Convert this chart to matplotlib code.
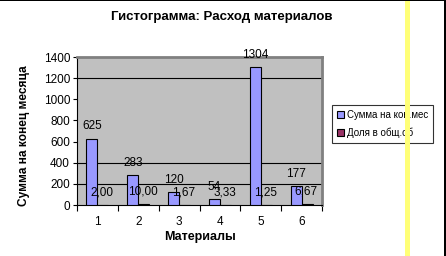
import numpy as np
import matplotlib
matplotlib.use("Agg")
import matplotlib.pyplot as plt
from matplotlib.patches import Rectangle

plt.rcParams["font.family"] = ["Liberation Sans", "DejaVu Sans"]

materials = ["1", "2", "3", "4", "5", "6"]
sum_end_month = [625, 283, 120, 54, 1304, 177]
share_total = [2.00, 10.00, 1.67, 3.33, 1.25, 6.67]
series_names = ["Сумма на кон.мес", "Доля в общ.об"]
grid_levels = [200, 400, 1200]

W, H = 446, 256
fig = plt.figure(figsize=(W / 100, H / 100), dpi=100)
ax = fig.add_axes([77 / W, 1 - 205 / H, 245 / W, 148 / H])
ax.set_facecolor("#c0c0c0")

x = np.arange(len(materials))
bw = 0.27
b1 = ax.bar(x - bw / 2, sum_end_month, bw, color="#9999ff", edgecolor="black",
            lw=0.8, label=series_names[0], zorder=3)
b2 = ax.bar(x + bw / 2, share_total, bw, color="#993366", edgecolor="black",
            lw=0.8, label=series_names[1], zorder=3)

for xi, v in zip(x, sum_end_month):
    ax.annotate(f"{v}", (xi - bw / 2, v), xytext=(0, 9), textcoords="offset points",
                ha="center", va="center", fontsize=8.5, zorder=4)
for xi, v in zip(x, share_total):
    ax.annotate(f"{v:.2f}".replace(".", ","), (xi + bw / 2 - 0.02, v), xytext=(0, 9),
                textcoords="offset points", ha="center", va="center",
                fontsize=8.5, zorder=4)

for g in grid_levels:
    ax.axhline(g, color="black", lw=0.8, zorder=1)

ax.set_xlim(-0.5, len(materials) - 0.5)
ax.set_ylim(0, 1400)
ax.set_yticks(range(0, 1401, 200))
ax.set_xticks(x)
ax.set_xticklabels(materials)
ax.set_xticks(np.arange(-0.5, len(materials)), minor=True)
ax.tick_params(axis="x", which="major", length=0, pad=8, labelsize=8.5)
ax.tick_params(axis="x", which="minor", length=4, direction="out", width=0.8)
ax.tick_params(axis="y", length=3, direction="out", width=0.8, labelsize=8.5, pad=2)

for s in ["top", "right"]:
    ax.spines[s].set_color("#808080")
    ax.spines[s].set_linewidth(2)
for s in ["left", "bottom"]:
    ax.spines[s].set_color("black")
    ax.spines[s].set_linewidth(0.8)

ax.set_xlabel("Материалы", fontsize=9, fontweight="bold", labelpad=2)
ax.set_ylabel("Сумма на конец месяца", fontsize=8.6, fontweight="bold")
ax.yaxis.set_label_coords(-0.19, 0.47)
fig.text(222 / W, 1 - 17 / H, "Гистограмма: Расход материалов", ha="center",
         va="center", fontsize=9.5, fontweight="bold")

leg = fig.legend(handles=[b1, b2], loc="upper left",
                 bbox_to_anchor=(332 / W, 1 - 105 / H), fontsize=7,
                 frameon=True, fancybox=False, edgecolor="black",
                 handlelength=0.7, handleheight=0.7, handletextpad=0.3,
                 borderpad=0.5, labelspacing=0.8, borderaxespad=0)
leg.get_frame().set_linewidth(0.8)

# yellow marker line and figure frame
fig.add_artist(Rectangle((405 / W, 0), 5 / W, 255 / H, transform=fig.transFigure,
                         color="#ffff77", lw=0, zorder=10))
fig.add_artist(Rectangle((444 / W, 0), 2 / W, 1, transform=fig.transFigure,
                         color="black", lw=0, zorder=10))
fig.add_artist(Rectangle((0, 1 - 1 / H), 1, 1 / H, transform=fig.transFigure,
                         color="black", lw=0, zorder=10))

fig.savefig("out.png", dpi=100)
